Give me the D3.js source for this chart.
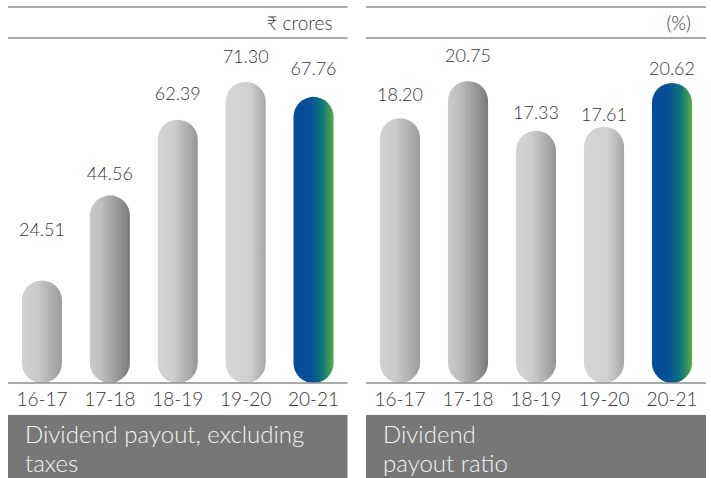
<!DOCTYPE html>
<html>
<head>
<meta charset="utf-8">
<script src="https://cdnjs.cloudflare.com/ajax/libs/d3/7.8.5/d3.min.js"></script>
<style>
  html, body { margin: 0; padding: 0; background: #ffffff; }
  svg { display: block; font-family: "Lato", "Open Sans", "Noto Sans", "DejaVu Sans", sans-serif; font-weight: 300; }
</style>
</head>
<body>
<svg id="chart" width="711" height="478"></svg>
<script>
// Fiscal years shown on both panels
const years = ["16-17", "17-18", "18-19", "19-20", "20-21"];
// Dividend payout excluding taxes, ₹ crores
const payoutCrores = [24.51, 44.56, 62.39, 71.30, 67.76];
// Dividend payout ratio, %
const payoutRatio = [18.20, 20.75, 17.33, 17.61, 20.62];
// Unit captions and panel titles
const unitLabels = ["₹ crores", "(%)"];
const panelTitles = [["Dividend payout, excluding", "taxes"], ["Dividend", "payout ratio"]];
// Gap (px) between each value label's baseline and its bar top
const labelGapCrores = [44, 15, 20, 19, 22];
const labelGapRatio = [17, 19, 12, 6, 8];

const W = 711, H = 478;
const ruleTop = 7, ruleSub = 38, axisY = 383, boxY = 415;
const ruleColor = "#8e8e8e", textColor = "#363636";

const panels = [
  { x0: 8, x1: 347.5, values: payoutCrores, unit: unitLabels[0], title: panelTitles[0],
    gaps: labelGapCrores, yMax: 80, yTop: 44.9, yBase: 384.5 },
  { x0: 366, x1: 706, values: payoutRatio, unit: unitLabels[1], title: panelTitles[1],
    gaps: labelGapRatio, yMax: 24, yTop: 33.6, yBase: 383.5 }
];

const svg = d3.select("#chart");
const defs = svg.append("defs");

// Per-year bar shading: grey cylinders, highlighted latest year
const shades = [
  [["0%", "#d2d2d2"], ["40%", "#c9c9c9"], ["100%", "#9c9c9c"]],
  [["0%", "#cbcbcb"], ["30%", "#bdbdbd"], ["100%", "#7b7b7b"]],
  [["0%", "#d4d4d4"], ["40%", "#cdcdcd"], ["100%", "#959595"]],
  [["0%", "#d6d6d6"], ["60%", "#d0d0d0"], ["100%", "#a6a6a6"]],
  [["0%", "#064c9a"], ["42%", "#074f97"], ["72%", "#0d7679"], ["100%", "#5bab48"]]
];
shades.forEach((stops, i) => {
  const g = defs.append("linearGradient").attr("id", "shade" + i)
    .attr("x1", "0%").attr("x2", "100%").attr("y1", "0%").attr("y2", "0%");
  stops.forEach(([o, c]) => g.append("stop").attr("offset", o).attr("stop-color", c));
});

// Capsule path with fully rounded top and bottom
function capsule(x, yTop, w, yBottom) {
  const r = w / 2;
  return `M${x},${yTop + r}A${r},${r} 0 0 1 ${x + w},${yTop + r}` +
         `L${x + w},${yBottom - r}A${r},${r} 0 0 1 ${x},${yBottom - r}Z`;
}

panels.forEach(p => {
  const g = svg.append("g");
  const x = d3.scaleBand().domain(years).range([p.x0, p.x1])
    .paddingInner(0.41).paddingOuter(0.205);
  const y = d3.scaleLinear().domain([0, p.yMax]).range([p.yBase, p.yTop]);
  const bw = x.bandwidth();

  // Header rules
  [ruleTop, ruleSub].forEach(ry => g.append("line")
    .attr("x1", p.x0).attr("x2", p.x1).attr("y1", ry).attr("y2", ry)
    .attr("stroke", ruleColor).attr("stroke-width", 1.3));

  g.append("text").attr("x", p.x1 - 15).attr("y", 30)
    .attr("text-anchor", "end").attr("font-size", 19).attr("fill", textColor)
    .text(p.unit);

  // Bars
  g.selectAll("path.bar").data(p.values).join("path")
    .attr("class", "bar")
    .attr("d", (v, i) => capsule(x(years[i]), y(v), bw, axisY))
    .attr("fill", (v, i) => `url(#shade${i})`);

  // Value labels
  g.selectAll("text.val").data(p.values).join("text")
    .attr("class", "val")
    .attr("x", (v, i) => x(years[i]) + bw / 2)
    .attr("y", (v, i) => y(v) - p.gaps[i])
    .attr("text-anchor", "middle").attr("font-size", 18).attr("fill", textColor)
    .text(v => v.toFixed(2));

  // Baseline axis with year labels
  const axis = d3.axisBottom(x).tickSize(0).tickPadding(0);
  const ax = g.append("g").attr("transform", `translate(0,${axisY})`).call(axis);
  ax.select(".domain").attr("d", `M${p.x0},0H${p.x1}`)
    .attr("stroke", ruleColor).attr("stroke-width", 1.3);
  ax.selectAll(".tick text")
    .attr("y", 23).attr("dy", null)
    .attr("font-family", null).attr("font-size", 19).attr("fill", textColor);
  ax.attr("font-family", null).attr("font-size", null);

  // Title box
  g.append("rect").attr("x", p.x0).attr("y", boxY)
    .attr("width", p.x1 - p.x0).attr("height", H - boxY).attr("fill", "#777777");
  p.title.forEach((line, k) => g.append("text")
    .attr("x", p.x0 + 17).attr("y", 443 + k * 29)
    .attr("font-size", 24).attr("fill", "#f4f4f4").text(line));
});
</script>
</body>
</html>
